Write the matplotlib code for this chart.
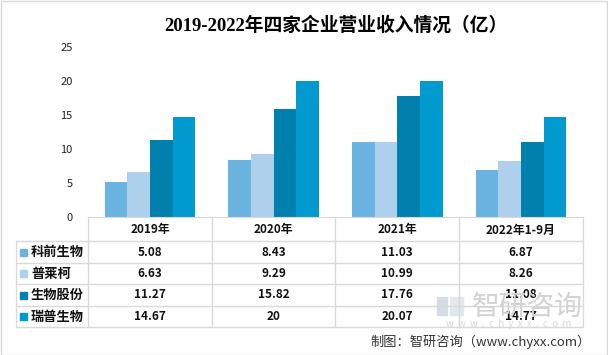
import numpy as np
import matplotlib.pyplot as plt
from matplotlib.patches import Rectangle

plt.rcParams['font.family'] = ['Noto Sans CJK SC', 'DejaVu Sans']

# data
years = ['2019年', '2020年', '2021年', '2022年1-9月']
companies = ['科前生物', '普莱柯', '生物股份', '瑞普生物']
kqsw = [5.08, 8.43, 11.03, 6.87]
plk = [6.63, 9.29, 10.99, 8.26]
swgf = [11.27, 15.82, 17.76, 11.08]
rpsw = [14.67, 20, 20.07, 14.77]
values = [kqsw, plk, swgf, rpsw]
value_labels = [['5.08', '8.43', '11.03', '6.87'],
                ['6.63', '9.29', '10.99', '8.26'],
                ['11.27', '15.82', '17.76', '11.08'],
                ['14.67', '20', '20.07', '14.77']]
colors = ['#6BB4E1', '#AFD0EC', '#0080AD', '#009ACE']

W, H = 608, 355
fig = plt.figure(figsize=(W / 100, H / 100), dpi=100)

# outer frame
fig.add_artist(Rectangle((0.5 / W, 0.5 / H), 1 - 1.5 / W, 1 - 1.5 / H,
                         transform=fig.transFigure, fill=False,
                         edgecolor='#D9D9D9', linewidth=1))

# main axes (pixel layout)
left, right, y0, ytop = 88, 583, 217, 47
ax = fig.add_axes([left / W, (H - y0) / H, (right - left) / W, (y0 - ytop) / H])
x = np.arange(len(years))
bw = 0.183
for i, (vals, c) in enumerate(zip(values, colors)):
    ax.bar(x + (i - 1.5) * bw, vals, width=bw, color=c, label=companies[i])
ax.set_xlim(-0.5, len(years) - 0.5)
ax.set_ylim(0, 25)
ax.set_yticks([0, 5, 10, 15, 20, 25])
ax.set_xticks([])
ax.tick_params(axis='y', length=0, pad=11, labelsize=8, labelcolor='#222222')
for s in ['top', 'right', 'left']:
    ax.spines[s].set_visible(False)
ax.spines['bottom'].set_color('#D9D9D9')

# title
fig.text(336 / W, 1 - 26 / H, '2019-2022年四家企业营业收入情况（亿）',
         ha='center', va='center', fontsize=13.5, fontweight='bold',
         family=['Liberation Serif', 'Noto Sans CJK SC'])

# data table below the axes, drawn in pixel coordinates
tx = fig.add_axes([0, 0, 1, 1], zorder=-1)
tx.set_xlim(0, W)
tx.set_ylim(H, 0)
tx.axis('off')
col_edges = [16, 88, 212, 335, 459, 583]
row_edges = [217, 241, 263, 284, 306, 327]
lc = '#D9D9D9'
for ry in row_edges[1:]:
    tx.plot([col_edges[0], col_edges[-1]], [ry, ry], color=lc, lw=1)
for cx in col_edges[1:]:
    tx.plot([cx, cx], [row_edges[0], row_edges[-1]], color=lc, lw=1)
tx.plot([col_edges[0]] * 2, [row_edges[1], row_edges[-1]], color=lc, lw=1)

for j, yr in enumerate(years):
    cx = (col_edges[j + 1] + col_edges[j + 2]) / 2
    tx.text(cx, (row_edges[0] + row_edges[1]) / 2 + 1, yr, ha='center', va='center',
            fontsize=8.5, fontweight='bold', color='#111111')
for i, name in enumerate(companies):
    cy = (row_edges[i + 1] + row_edges[i + 2]) / 2
    tx.add_patch(Rectangle((20, cy - 3.5), 7, 7, color=colors[i]))
    tx.text(31, cy, name, ha='left', va='center', fontsize=9.5,
            fontweight='bold', color='#111111')
    for j in range(len(years)):
        cx = (col_edges[j + 1] + col_edges[j + 2]) / 2
        tx.text(cx, cy, value_labels[i][j], ha='center', va='center',
                fontsize=8.5, fontweight='bold', color='#111111')

# watermark
tx.add_patch(Rectangle((437, 297), 10, 18, color='#D5DCE6', zorder=0))
tx.add_patch(Rectangle((450, 297), 13, 18, color='#E3E8EE', zorder=0))
fig.text(527 / W, 1 - 307 / H, '智研咨询', ha='center', va='center',
         fontsize=20, color='#D2D2D2', zorder=0)
fig.text(509 / W, 1 - 324 / H, 'w  w  w  .  c  h  y  x  x  .  c  o  m', ha='center',
         va='center', fontsize=7, color='#D8D8D8', zorder=0)

# source
fig.text(591 / W, 1 - 342 / H, '制图：智研咨询（www.chyxx.com）', ha='right',
         va='center', fontsize=9.5, color='#333333')

fig.savefig('out.png', dpi=100)
